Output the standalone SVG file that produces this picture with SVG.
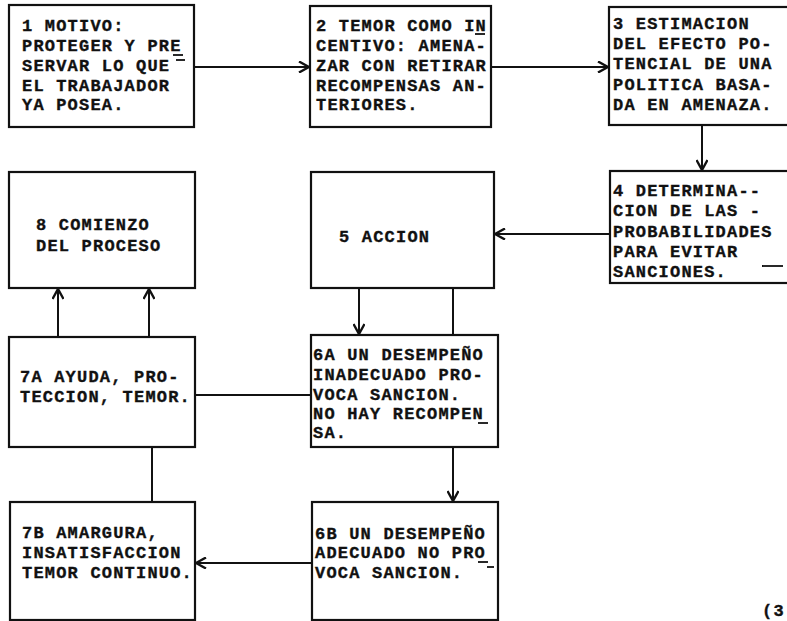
<svg xmlns="http://www.w3.org/2000/svg" width="787" height="621" viewBox="0 0 787 621">
<style>
.box{fill:#fff;stroke:#111;stroke-width:2.2}
.t{font-family:"Liberation Mono","Courier New",monospace;font-weight:bold;font-size:17px;letter-spacing:1.2px;fill:#111;stroke:#111;stroke-width:0.35}
.c{fill:none;stroke:#111;stroke-width:2}
.u{stroke:#111;stroke-width:1.8}
</style>
<defs>
<marker id="ah" viewBox="0 0 12 12" refX="11" refY="6" markerWidth="12" markerHeight="12" markerUnits="userSpaceOnUse" orient="auto">
<path d="M1,0.5 L11,6 L1,11.5" fill="none" stroke="#111" stroke-width="2.4"/>
</marker>
</defs>
<rect width="787" height="621" fill="#fff"/>
<g id="connectors">
<line class="c" x1="194" y1="67" x2="309" y2="67" marker-end="url(#ah)"/>
<line class="c" x1="491" y1="67" x2="608" y2="67" marker-end="url(#ah)"/>
<line class="c" x1="702" y1="125" x2="702" y2="170" marker-end="url(#ah)"/>
<line class="c" x1="610" y1="234" x2="495" y2="234" marker-end="url(#ah)"/>
<line class="c" x1="359" y1="288" x2="359" y2="334" marker-end="url(#ah)"/>
<line class="c" x1="453" y1="288" x2="453" y2="335"/>
<line class="c" x1="453" y1="447" x2="453" y2="501" marker-end="url(#ah)"/>
<line class="c" x1="195" y1="395" x2="311" y2="395"/>
<line class="c" x1="58" y1="337" x2="58" y2="289" marker-end="url(#ah)"/>
<line class="c" x1="149" y1="337" x2="149" y2="289" marker-end="url(#ah)"/>
<line class="c" x1="152" y1="447" x2="152" y2="502"/>
<line class="c" x1="312" y1="563" x2="196" y2="563" marker-end="url(#ah)"/>
</g>
<g id="n1">
<rect class="box" x="9" y="5" width="185" height="122"/>
<text class="t" x="22" y="31">1 MOTIVO:</text>
<text class="t" x="22" y="51">PROTEGER Y PRE</text>
<text class="t" x="22" y="71">SERVAR LO QUE</text>
<text class="t" x="22" y="91">EL TRABAJADOR</text>
<text class="t" x="22" y="110">YA POSEA.</text>
<line class="u" x1="173" y1="55" x2="183" y2="55"/>
<line class="u" x1="176" y1="60" x2="185" y2="60"/>
</g>
<g id="n2">
<rect class="box" x="310" y="6" width="181" height="121"/>
<text class="t" x="316" y="31">2 TEMOR COMO IN</text>
<text class="t" x="316" y="51">CENTIVO: AMENA-</text>
<text class="t" x="316" y="71">ZAR CON RETIRAR</text>
<text class="t" x="316" y="91">RECOMPENSAS AN-</text>
<text class="t" x="316" y="110">TERIORES.</text>
<line class="u" x1="475" y1="34" x2="485" y2="34"/>
</g>
<g id="n3">
<rect class="box" x="609" y="7" width="182" height="118"/>
<text class="t" x="613" y="29">3 ESTIMACION</text>
<text class="t" x="613" y="49">DEL EFECTO PO-</text>
<text class="t" x="613" y="69">TENCIAL DE UNA</text>
<text class="t" x="613" y="90">POLITICA BASA-</text>
<text class="t" x="613" y="110">DA EN AMENAZA.</text>
</g>
<g id="n4">
<rect class="box" x="610" y="171" width="181" height="112"/>
<text class="t" x="613" y="196">4 DETERMINA--</text>
<text class="t" x="613" y="216">CION DE LAS -</text>
<text class="t" x="613" y="237">PROBABILIDADES</text>
<text class="t" x="613" y="257">PARA EVITAR</text>
<text class="t" x="613" y="277">SANCIONES.</text>
<line class="u" x1="762" y1="266" x2="783" y2="266"/>
</g>
<g id="n8">
<rect class="box" x="9" y="172" width="186" height="116"/>
<text class="t" x="36" y="230">8 COMIENZO</text>
<text class="t" x="36" y="251">DEL PROCESO</text>
</g>
<g id="n5">
<rect class="box" x="311" y="172" width="183" height="116"/>
<text class="t" x="339" y="242">5 ACCION</text>
</g>
<g id="n7a">
<rect class="box" x="9" y="337" width="186" height="110"/>
<text class="t" x="20" y="382">7A AYUDA, PRO-</text>
<text class="t" x="20" y="402">TECCION, TEMOR.</text>
</g>
<g id="n6a">
<rect class="box" x="311" y="335" width="187" height="112"/>
<text class="t" x="313" y="360">6A UN DESEMPEÑO</text>
<text class="t" x="313" y="380">INADECUADO PRO-</text>
<text class="t" x="313" y="400">VOCA SANCION.</text>
<text class="t" x="313" y="419">NO HAY RECOMPEN</text>
<text class="t" x="313" y="438">SA.</text>
<line class="u" x1="478" y1="423" x2="488" y2="423"/>
</g>
<g id="n7b">
<rect class="box" x="10" y="502" width="185" height="118"/>
<text class="t" x="22" y="538">7B AMARGURA,</text>
<text class="t" x="22" y="558">INSATISFACCION</text>
<text class="t" x="22" y="578">TEMOR CONTINUO.</text>
</g>
<g id="n6b">
<rect class="box" x="312" y="502" width="186" height="118"/>
<text class="t" x="315" y="539">6B UN DESEMPEÑO</text>
<text class="t" x="315" y="558">ADECUADO NO PRO</text>
<text class="t" x="315" y="578">VOCA SANCION.</text>
<line class="u" x1="478" y1="562" x2="488" y2="562"/>
<line class="u" x1="487" y1="567" x2="494" y2="567"/>
</g>
<text class="t" x="762" y="616">(3</text>
</svg>
